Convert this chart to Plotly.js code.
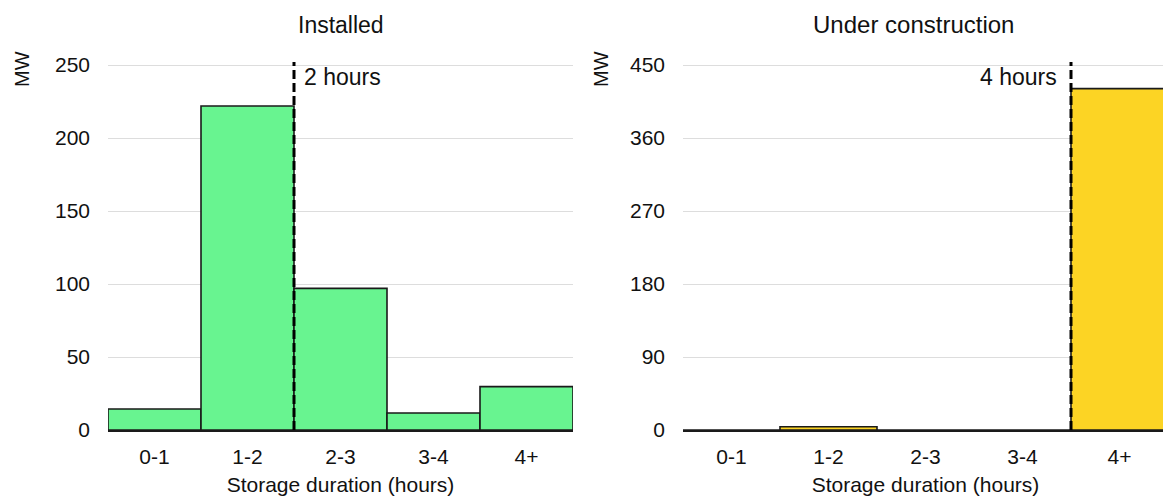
<!DOCTYPE html>
<html>
<head>
<meta charset="utf-8">
<script src="https://cdn.plot.ly/plotly-3.0.1.min.js"></script>
<style>
html, body { margin: 0; padding: 0; overflow: hidden; background: #fff; }
#chart { width: 1170px; height: 501px; }
</style>
</head>
<body>
<div id="chart"></div>
<script>
// Data
const categories = ['0-1', '1-2', '2-3', '3-4', '4+'];
const installedMW = [14.4, 222, 97, 11.6, 29.7];
const constructionMW = [0, 4, 0, 0, 421];
const installedTicks = [0, 50, 100, 150, 200, 250];
const constructionTicks = [0, 90, 180, 270, 360, 450];
const installedMarker = {pos: 1.5, label: '2 hours'};
const constructionMarker = {pos: 3.5, label: '4 hours'};
const panelTitles = ['Installed', 'Under construction'];
const xTitle = 'Storage duration (hours)';
const yTitle = 'MW';

const FONT = 'Liberation Sans';
const W = 1170, H = 501;
const ML = 108, MR = 2, MT = 62, MB = 71;
const pw = W - ML - MR;
const leftDomain = [0, (573 - ML) / pw];
const rightDomain = [(683 - ML) / pw, 1];

const traces = [
  {
    type: 'bar', x: categories, y: installedMW, xaxis: 'x', yaxis: 'y',
    marker: {color: '#68f490', line: {color: '#1a1a1a', width: 1.6}},
    hoverinfo: 'x+y', showlegend: false
  },
  {
    type: 'bar', x: categories, y: constructionMW, xaxis: 'x2', yaxis: 'y2',
    marker: {color: '#fcd424', line: {color: '#1a1a1a', width: 1.6}},
    hoverinfo: 'x+y', showlegend: false
  }
];

function yAxis(ticks, domainAnchor) {
  return {
    anchor: domainAnchor,
    range: [0, ticks[ticks.length - 1] * 1.0085],
    tickvals: ticks,
    ticktext: ticks.map(String),
    showgrid: true, gridcolor: '#dddddd', gridwidth: 1,
    zeroline: false, showline: false,
    ticks: '', ticklabelstandoff: 17,
    tickfont: {family: FONT, size: 21, color: '#111'},
    fixedrange: true
  };
}
function xAxis(domain, anchor) {
  return {
    domain: domain, anchor: anchor,
    type: 'category', categoryorder: 'array', categoryarray: categories,
    range: [-0.5, 4.5],
    showgrid: false, zeroline: false,
    showline: true, linecolor: '#1a1a1a', linewidth: 1.5,
    ticks: '', ticklabelstandoff: 7,
    tickfont: {family: FONT, size: 21, color: '#111'},
    title: {text: xTitle, font: {family: FONT, size: 21, color: '#111'}, standoff: 10},
    fixedrange: true
  };
}

const layout = {
  width: W, height: H,
  margin: {l: ML, r: MR, t: MT, b: MB},
  paper_bgcolor: '#fff', plot_bgcolor: '#fff',
  bargap: 0,
  showlegend: false,
  xaxis: xAxis(leftDomain, 'y'),
  yaxis: yAxis(installedTicks, 'x'),
  xaxis2: xAxis(rightDomain, 'y2'),
  yaxis2: yAxis(constructionTicks, 'x2'),
  shapes: [
    {type: 'line', xref: 'x', yref: 'y domain', x0: installedMarker.pos, x1: installedMarker.pos, y0: 0, y1: 1,
     line: {color: '#000', width: 3, dash: '9px,4px'}},
    {type: 'line', xref: 'x2', yref: 'y2 domain', x0: constructionMarker.pos, x1: constructionMarker.pos, y0: 0, y1: 1,
     line: {color: '#000', width: 3, dash: '9px,4px'}}
  ],
  annotations: [
    {text: panelTitles[0], xref: 'x domain', yref: 'y domain', x: 0.5, y: 1, yshift: 22, yanchor: 'bottom',
     xanchor: 'center', showarrow: false, font: {family: FONT, size: 23, color: '#111'}},
    {text: panelTitles[1], xref: 'x2 domain', yref: 'y2 domain', x: 0.5, y: 1, xshift: -12, yshift: 22, yanchor: 'bottom',
     xanchor: 'center', showarrow: false, font: {family: FONT, size: 24, color: '#111'}},
    {text: installedMarker.label, xref: 'x', yref: 'y domain', x: installedMarker.pos, y: 1, xshift: 8, yshift: 0,
     xanchor: 'left', yanchor: 'top', showarrow: false, font: {family: FONT, size: 23, color: '#111'}},
    {text: constructionMarker.label, xref: 'x2', yref: 'y2 domain', x: constructionMarker.pos, y: 1, xshift: -12, yshift: 0,
     xanchor: 'right', yanchor: 'top', showarrow: false, font: {family: FONT, size: 23, color: '#111'}},
    {text: yTitle, xref: 'paper', yref: 'paper', x: 0, y: 1, xshift: -86, yshift: 13, textangle: -90,
     xanchor: 'center', yanchor: 'top', showarrow: false, font: {family: FONT, size: 20, color: '#111'}},
    {text: yTitle, xref: 'x2 domain', yref: 'paper', x: 0, y: 1, xshift: -82, yshift: 13, textangle: -90,
     xanchor: 'center', yanchor: 'top', showarrow: false, font: {family: FONT, size: 20, color: '#111'}}
  ]
};

Plotly.newPlot('chart', traces, layout, {displayModeBar: false, staticPlot: true});
</script>
</body>
</html>
